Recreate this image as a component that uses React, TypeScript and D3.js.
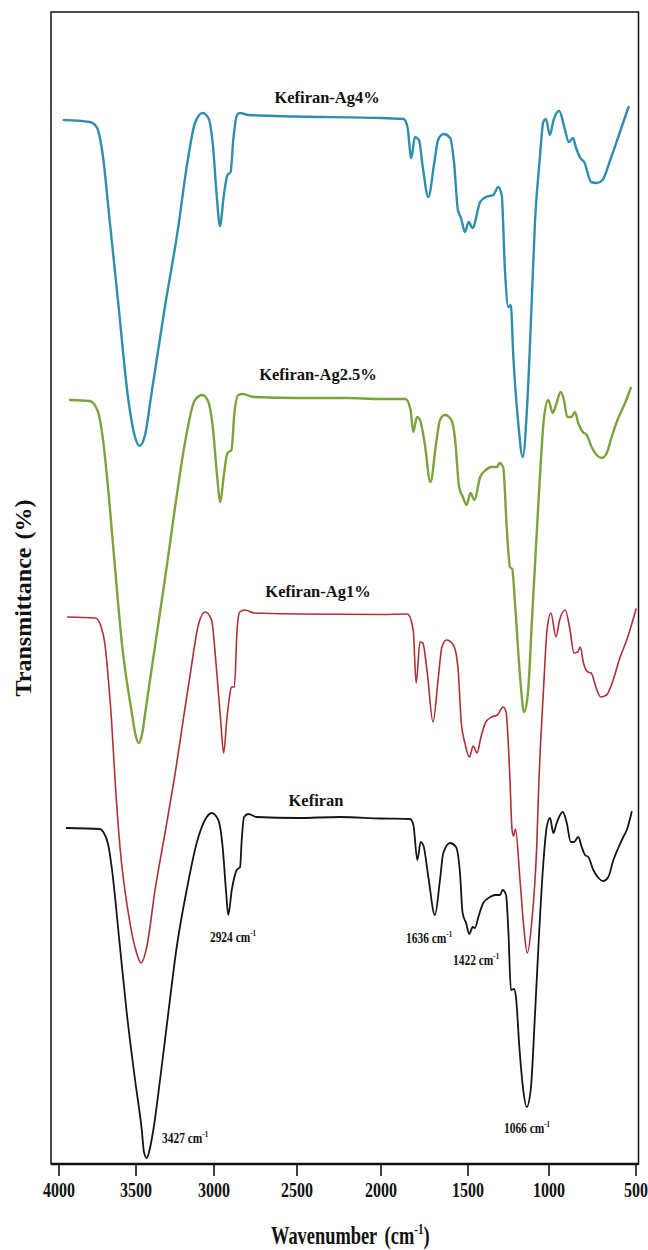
import React from 'react';
import * as d3 from 'd3';

// ---- data (wavenumber cm-1, transmittance in stacked arbitrary %) ----
const wavenumberTicks = [4000, 3500, 3000, 2500, 2000, 1500, 1000, 500];

const kefiran: [number, number][] = [
  [3950, 33.6], [3734, 33.5], [3712, 33.2], [3680, 31.9], [3658, 29.7], [3604, 21.7], [3560, 15.1], [3506, 8.4],
  [3463, 3.4], [3449, 1.2], [3431, 0.6], [3413, 1.4], [3389, 3.4], [3346, 8.4], [3293, 15.1], [3239, 21.7],
  [3175, 27.4], [3111, 32.1], [3058, 34.4], [3015, 35.1], [2974, 34.4], [2948, 31.7], [2928, 27.4], [2914, 24.9],
  [2893, 27.4], [2863, 29.4], [2843, 29.7], [2833, 32.4], [2819, 34.7], [2793, 35.0], [2743, 34.7], [2500, 34.6],
  [2244, 34.7], [2000, 34.55], [1833, 34.5], [1814, 33.9], [1791, 30.4], [1772, 32.2], [1757, 31.9], [1728, 28.7],
  [1690, 24.9], [1661, 28.4], [1642, 31.1], [1603, 32.1], [1569, 31.7], [1546, 29.1], [1531, 25.1], [1511, 24.1],
  [1492, 23.0], [1471, 23.7], [1457, 23.6], [1436, 24.7], [1406, 26.1], [1364, 26.7], [1333, 26.9], [1302, 26.9],
  [1286, 27.4], [1265, 26.9], [1251, 23.4], [1235, 17.4], [1216, 17.5], [1204, 16.7], [1183, 11.7], [1159, 7.4],
  [1138, 5.7], [1113, 7.4], [1086, 15.1], [1060, 23.4], [1035, 30.1], [1014, 33.7], [994, 34.6], [975, 33.1],
  [956, 34.1], [921, 35.2], [898, 34.1], [875, 32.2], [856, 32.2], [832, 32.7], [812, 31.7], [793, 30.9],
  [774, 30.7], [745, 29.4], [716, 28.6], [688, 28.3], [659, 28.7], [630, 30.4], [602, 31.6], [573, 32.7],
  [553, 33.4], [525, 35.2],
];

const kefiranAg1: [number, number][] = [
  [3944, 54.7], [3763, 54.6], [3726, 53.7], [3701, 51.9], [3682, 48.9], [3659, 44.4], [3636, 38.4], [3604, 31.7],
  [3550, 25.1], [3496, 21.1], [3468, 20.1], [3431, 21.7], [3378, 27.4], [3314, 33.1], [3256, 38.4], [3158, 48.4],
  [3097, 54.1], [3056, 55.2], [3016, 54.4], [2988, 50.1], [2960, 44.4], [2942, 41.1], [2923, 44.4], [2907, 46.7],
  [2895, 47.7], [2877, 47.7], [2861, 53.4], [2845, 55.2], [2815, 55.4], [2757, 55.1], [2500, 55.0], [2000, 54.95],
  [1848, 55.0], [1815, 53.4], [1798, 48.1], [1776, 52.2], [1760, 52.1], [1734, 49.1], [1701, 44.2], [1672, 48.4],
  [1650, 51.7], [1624, 52.4], [1584, 51.9], [1558, 49.7], [1540, 44.4], [1518, 42.1], [1491, 40.7], [1468, 41.8],
  [1444, 41.1], [1420, 42.7], [1390, 44.2], [1354, 44.7], [1319, 44.9], [1283, 45.7], [1265, 45.2], [1241, 38.4],
  [1228, 33.4], [1219, 32.8], [1207, 33.5], [1179, 28.4], [1154, 23.4], [1134, 21.1], [1107, 24.1], [1076, 31.7],
  [1062, 38.4], [1034, 47.4], [1012, 53.4], [989, 55.1], [960, 52.7], [939, 54.4], [907, 55.4], [879, 53.4],
  [857, 51.1], [835, 51.2], [820, 51.7], [802, 50.1], [776, 49.2], [758, 49.1], [725, 47.4], [703, 46.7],
  [670, 46.9], [637, 48.1], [593, 50.6], [549, 52.6], [500, 55.5],
];

const kefiranAg25: [number, number][] = [
  [3929, 76.4], [3800, 76.3], [3751, 75.4], [3714, 72.4], [3676, 66.7], [3639, 60.1], [3589, 51.7], [3527, 45.1],
  [3503, 42.9], [3483, 42.1], [3462, 42.9], [3441, 45.1], [3379, 51.7], [3306, 59.4], [3244, 66.3], [3183, 72.4],
  [3122, 76.4], [3073, 76.9], [3036, 76.2], [3006, 73.4], [2983, 69.1], [2962, 66.2], [2942, 68.7], [2919, 71.1],
  [2895, 71.4], [2877, 75.1], [2854, 76.9], [2827, 77.0], [2757, 76.7], [2500, 76.6], [2207, 76.6], [2000, 76.5],
  [1859, 76.5], [1830, 75.4], [1815, 73.2], [1793, 74.7], [1776, 74.4], [1749, 72.1], [1716, 68.2], [1683, 72.1],
  [1661, 74.4], [1633, 74.9], [1595, 74.4], [1574, 72.4], [1551, 67.7], [1529, 66.7], [1508, 65.9], [1485, 67.1],
  [1460, 66.4], [1425, 68.7], [1390, 69.4], [1354, 69.7], [1319, 69.7], [1306, 70.1], [1283, 69.7], [1260, 63.4],
  [1241, 59.7], [1227, 59.5], [1210, 56.1], [1177, 48.4], [1154, 45.2], [1131, 46.9], [1103, 55.1], [1077, 62.7],
  [1052, 69.9], [1031, 74.6], [1004, 76.4], [979, 75.1], [960, 75.9], [933, 77.2], [914, 76.4], [895, 74.7],
  [870, 74.7], [851, 75.2], [832, 74.1], [806, 73.2], [783, 72.9], [755, 71.7], [726, 70.9], [697, 70.6],
  [668, 71.1], [640, 72.7], [602, 74.6], [563, 76.1], [530, 77.6],
];

const kefiranAg4: [number, number][] = [
  [3969, 104.4], [3800, 104.2], [3756, 103.7], [3714, 100.7], [3676, 95.1], [3614, 85.9], [3552, 76.7], [3510, 72.9],
  [3478, 71.8], [3442, 72.9], [3404, 76.7], [3318, 85.4], [3232, 93.4], [3171, 100.1], [3122, 104.1], [3073, 105.1],
  [3036, 104.6], [3006, 101.7], [2983, 96.7], [2964, 93.8], [2942, 96.7], [2919, 98.9], [2900, 99.2], [2884, 102.4],
  [2861, 104.9], [2845, 105.1], [2792, 104.9], [2500, 104.75], [2000, 104.6], [1870, 104.5], [1848, 103.7], [1826, 100.6],
  [1805, 102.7], [1782, 102.4], [1760, 99.7], [1728, 96.7], [1694, 100.1], [1672, 102.4], [1640, 103.0], [1602, 102.6],
  [1580, 100.1], [1558, 95.4], [1540, 94.6], [1518, 93.2], [1496, 94.2], [1472, 93.6], [1425, 96.2], [1390, 96.7],
  [1344, 96.9], [1313, 97.7], [1292, 96.9], [1272, 89.4], [1251, 85.7], [1236, 85.9], [1220, 80.7], [1190, 74.1],
  [1162, 70.7], [1134, 76.1], [1107, 86.1], [1086, 94.4], [1059, 100.1], [1035, 104.2], [1019, 104.5], [995, 102.9],
  [974, 104.4], [941, 105.3], [912, 103.7], [886, 102.2], [862, 102.6], [846, 101.7], [820, 100.6], [798, 100.2],
  [758, 98.2], [725, 98.1], [692, 98.4], [648, 100.4], [604, 102.6], [543, 105.7],
];

const seriesNames = ['Kefiran', 'Kefiran-Ag1%', 'Kefiran-Ag2.5%', 'Kefiran-Ag4%'];
const seriesData = [kefiran, kefiranAg1, kefiranAg25, kefiranAg4];
const seriesColors = ['#151515', '#ad2f39', '#7ea23d', '#2f8eab'];
const seriesWidths = [1.8, 1.6, 2.4, 2.4];
// label anchor in data units [wavenumber, transmittance]
const seriesLabelAt: [number, number][] = [[2387, 35.8], [2375, 56.7], [2375, 78.4], [2321, 106.1]];

const peakLabels = ['3427', '2924', '1636', '1422', '1066'];
const peakLabelAt: [number, number][] = [[3333, 2.1], [3026, 22.2], [1856, 22.1], [1586, 19.9], [1278, 3.1]];

const FONT = "'Liberation Serif', 'Times New Roman', serif";

export default function App() {
  const W = 648, H = 1250;
  const left = 51, right = 638.5, top = 12, bottom = 1164;

  // axis calibration (pixel position of each tick of the original figure)
  const x = d3.scaleLinear().domain(wavenumberTicks).range([59, 136, 214, 297, 381, 468, 549, 636]);
  const y = d3.scaleLinear().domain([0, 100]).range([bottom, bottom - 1000]);

  const line = d3.line<[number, number]>()
    .x(d => x(d[0]))
    .y(d => y(d[1]))
    .curve(d3.curveMonotoneX);

  return (
    <svg width={W} height={H} style={{ position: 'absolute', left: 0, top: 0, background: '#fff' }}
      fontFamily={FONT} fontWeight="bold">
      <rect x={0} y={0} width={W} height={H} fill="#fff" />
      {/* frame */}
      <rect x={left} y={top} width={right - left} height={bottom - top} fill="none" stroke="#111" strokeWidth={1.5} />
      <line x1={left} x2={right} y1={bottom} y2={bottom} stroke="#111" strokeWidth={2.4} />

      {/* ticks */}
      {wavenumberTicks.map(t => (
        <g key={t}>
          <line x1={x(t)} x2={x(t)} y1={bottom} y2={bottom + 12} stroke="#111" strokeWidth={1.6} />
          <text transform={`translate(${x(t)},${1197}) scale(1,1.3)`} textAnchor="middle" fontSize={16} fill="#111">{t}</text>
        </g>
      ))}

      {/* spectra */}
      {seriesData.map((d, i) => (
        <path key={seriesNames[i]} d={line(d) || ''} fill="none" stroke={seriesColors[i]}
          strokeWidth={seriesWidths[i]} strokeLinejoin="round" strokeLinecap="round" />
      ))}

      {/* series labels */}
      {seriesNames.map((n, i) => (
        <text key={n} transform={`translate(${x(seriesLabelAt[i][0])},${y(seriesLabelAt[i][1])}) scale(0.97,1)`}
          textAnchor="middle" fontSize={17} fill="#111">{n}</text>
      ))}

      {/* peak annotations */}
      {peakLabels.map((p, i) => (
        <text key={p} transform={`translate(${x(peakLabelAt[i][0])},${y(peakLabelAt[i][1])}) scale(0.88,1.15)`}
          fontSize={13} fill="#111">
          <tspan>{p} cm</tspan>
          <tspan dy={-5} fontSize={8}>-1</tspan>
        </text>
      ))}

      {/* axis titles */}
      <text transform={`translate(271,1244) scale(0.92,1.25)`} fontSize={20} fill="#111">
        <tspan>Wavenumber</tspan>
        <tspan dx={8}>(cm</tspan>
        <tspan dy={-8} fontSize={12}>-1</tspan>
        <tspan dy={8} fontSize={20}>)</tspan>
      </text>
      <text transform={`translate(31,598) rotate(-90)`} textAnchor="middle" fontSize={24} fill="#111">
        <tspan>Transmittance</tspan>
        <tspan dx={8}>(%)</tspan>
      </text>
    </svg>
  );
}
